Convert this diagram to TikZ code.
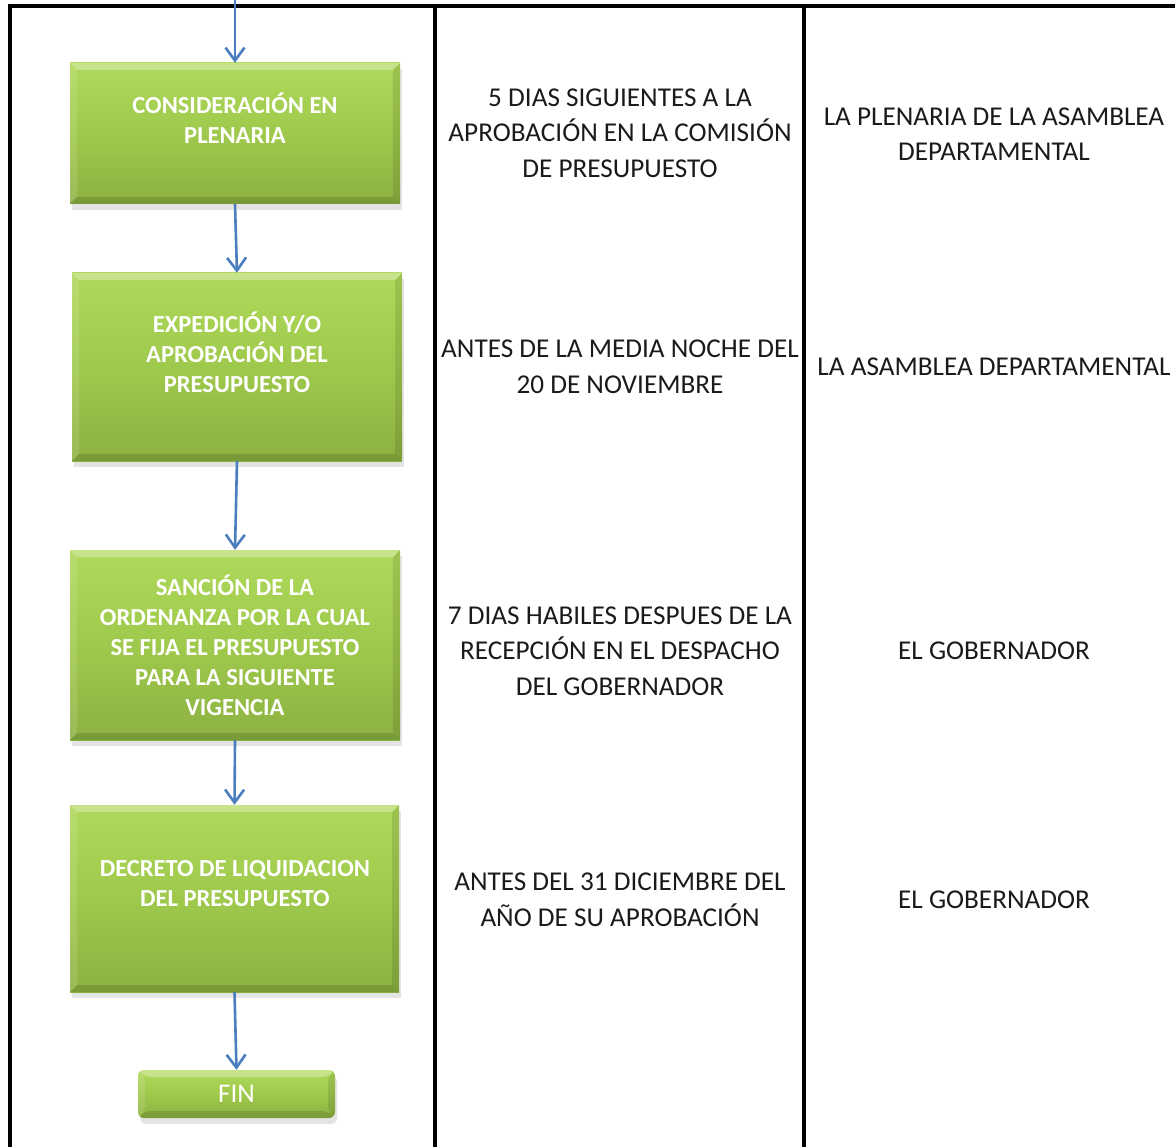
\documentclass[tikz,border=0pt]{standalone}
\usepackage{fontspec}
\setmainfont{Carlito}
\usepackage{tikz}
\usetikzlibrary{arrows.meta, positioning, shadows, calc}

\definecolor{verdeA}{HTML}{AFD95A}
\definecolor{verdeB}{HTML}{9FC94C}
\definecolor{verdeC}{HTML}{8CB141}
\definecolor{azul}{HTML}{4A7EBF}
\definecolor{texto}{HTML}{1A1A1A}

\begin{document}
\begin{tikzpicture}[
  x=1pt, y=1pt,
  paso/.style={rectangle, inner sep=0pt, minimum width=330pt,
               top color=verdeA, bottom color=verdeC, middle color=verdeB,
               drop shadow={shadow xshift=2pt, shadow yshift=-6pt,
                            fill=black!35, opacity=0.3},
               path picture={
                 \fill[white, opacity=0.30]
                   (path picture bounding box.north west) --
                   (path picture bounding box.north east) --
                   ($(path picture bounding box.north east)+(-7,-7)$) --
                   ($(path picture bounding box.north west)+(7,-7)$) -- cycle;
                 \fill[white, opacity=0.12]
                   (path picture bounding box.north west) --
                   ($(path picture bounding box.north west)+(7,-7)$) --
                   ($(path picture bounding box.south west)+(7,7)$) --
                   (path picture bounding box.south west) -- cycle;
                 \fill[black, opacity=0.13]
                   (path picture bounding box.south west) --
                   (path picture bounding box.south east) --
                   ($(path picture bounding box.south east)+(-7,7)$) --
                   ($(path picture bounding box.south west)+(7,7)$) -- cycle;
                 \fill[black, opacity=0.10]
                   (path picture bounding box.north east) --
                   ($(path picture bounding box.north east)+(-7,-7)$) --
                   ($(path picture bounding box.south east)+(-7,7)$) --
                   (path picture bounding box.south east) -- cycle;
               }},
  pasotxt/.style={font=\bfseries\fontsize{24.5}{30}\selectfont,
                  text=white, align=center},
  celda/.style={font=\fontsize{27.2}{35.5}\selectfont,
                text=texto, align=center},
  flecha/.style={draw=azul, line width=2.6pt,
                 -{Straight Barb[length=13pt, width=19pt]}},
  rejilla/.style={line width=4pt, black}
]
  \useasboundingbox (0,0) rectangle (1175,-1147);

  % Table grid
  \draw[rejilla] (10,-1147) -- (10,-6) -- (1175,-6);
  \draw[rejilla] (435,-6) -- (435,-1147);
  \draw[rejilla] (804,-6) -- (804,-1147);

  % Steps
  \node[paso, minimum height=141pt] (p1) at (235,-133.5) {};
  \node[pasotxt] (t1) at (235,-118) {CONSIDERACIÓN EN\\PLENARIA};

  \node[paso, minimum height=188pt] (p2) at (237,-367) {};
  \node[pasotxt] (t2) at (237,-352) {EXPEDICIÓN Y/O\\APROBACIÓN DEL\\PRESUPUESTO};

  \node[paso, minimum height=190pt] (p3) at (235,-645) {};
  \node[pasotxt] (t3) at (235,-645)
    {SANCIÓN DE LA\\ORDENANZA POR LA CUAL\\SE FIJA EL PRESUPUESTO\\PARA LA SIGUIENTE\\VIGENCIA};

  \node[paso, minimum height=187pt, minimum width=329pt] (p4) at (234.5,-898.5) {};
  \node[pasotxt] (t4) at (235,-884) {DECRETO DE LIQUIDACION\\DEL PRESUPUESTO};

  \node[paso, minimum height=48pt, minimum width=197pt, rounded corners=6pt,
        font=\fontsize{27}{30}\selectfont, text=white] (fin) at (236.5,-1094) {FIN};

  % Connectors
  \coordinate (ini) at (235,0);
  \draw[flecha] (ini) -- (p1.north);
  \draw[flecha] (p1.south) -- (p2.north);
  \draw[flecha] (p2.south) -- (p3.north);
  \draw[flecha] (p3.south) -- (p4.north);
  \draw[flecha] (p4.south) -- (fin.north);

  % Deadlines
  \node[celda] (d1) at (620,-133) {5 DIAS SIGUIENTES A LA\\APROBACIÓN EN LA COMISIÓN\\DE PRESUPUESTO};
  \node[celda] (d2) at (620,-367) {ANTES DE LA MEDIA NOCHE DEL\\20 DE NOVIEMBRE};
  \node[celda] (d3) at (620,-651) {7 DIAS HABILES DESPUES DE LA\\RECEPCIÓN EN EL DESPACHO\\DEL GOBERNADOR};
  \node[celda] (d4) at (620,-900) {ANTES DEL 31 DICIEMBRE DEL\\AÑO DE SU APROBACIÓN};

  % Responsible
  \node[celda] (r1) at (994,-134) {LA PLENARIA DE LA ASAMBLEA\\DEPARTAMENTAL};
  \node[celda] (r2) at (994,-367) {LA ASAMBLEA DEPARTAMENTAL};
  \node[celda] (r3) at (994,-651) {EL GOBERNADOR};
  \node[celda] (r4) at (994,-900) {EL GOBERNADOR};
\end{tikzpicture}
\end{document}
